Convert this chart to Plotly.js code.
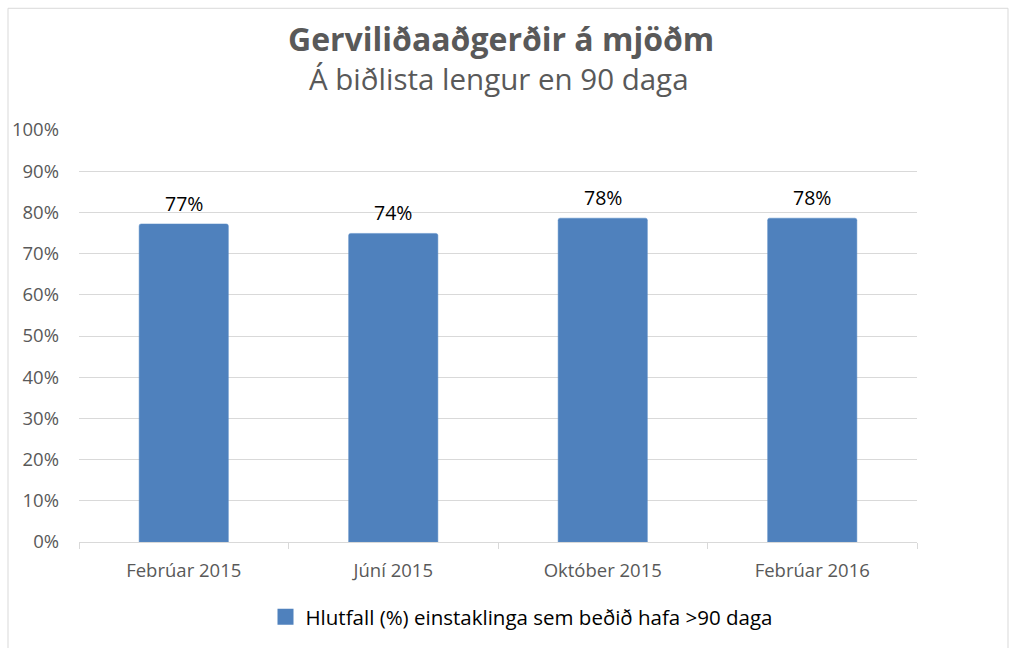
<!DOCTYPE html>
<html>
<head>
<meta charset="utf-8">
<script src="https://cdn.plot.ly/plotly-3.0.1.min.js"></script>
<style>html,body{margin:0;padding:0;background:#fff;}#chart{width:1015px;height:648px;}</style>
</head>
<body>
<div id="chart"></div>
<script>
const categories = ["Febrúar 2015", "Júní 2015", "Október 2015", "Febrúar 2016"];
const values = [0.772, 0.749, 0.786, 0.786];
const labels = ["77%", "74%", "78%", "78%"];
const seriesName = "Hlutfall (%) einstaklinga sem beðið hafa >90 daga";
const yTicks = [0, 0.1, 0.2, 0.3, 0.4, 0.5, 0.6, 0.7, 0.8, 0.9, 1.0];
const yTickText = ["0%", "10%", "20%", "30%", "40%", "50%", "60%", "70%", "80%", "90%", "100%"];
const chartTitle = "Gerviliðaaðgerðir á mjöðm";
const chartSubtitle = "Á biðlista lengur en 90 daga";

const W = 1015, H = 648;
const m = {l: 79, r: 98, t: 130, b: 105};
const pw = W - m.l - m.r, ph = H - m.t - m.b;
const px = x => (x - m.l) / pw;
const py = y => (H - m.b - y) / ph;
const FONT = "'Open Sans', sans-serif";
const BLUE = "#4f81bd";

const barTrace = {
  type: "bar",
  x: categories,
  y: values,
  name: seriesName,
  marker: {color: BLUE, cornerradius: 2, line: {color: "#5b8cc6", width: 0.5}},
  hoverinfo: "x+y",
  showlegend: false
};

// legend entry for the same series (square swatch like the original)
const legendTrace = {
  type: "scatter",
  mode: "markers",
  x: categories,
  y: categories.map(() => null),
  name: seriesName,
  marker: {symbol: "square", size: 16, color: BLUE},
  hoverinfo: "skip",
  showlegend: true
};

const labelAnnotations = categories.map((c, i) => ({
  x: c, y: values[i], xref: "x", yref: "y",
  text: labels[i], showarrow: false, xanchor: "center", yanchor: "bottom", yshift: 5,
  font: {family: FONT, size: 19.5, color: "#000000"}
}));

const layout = {
  width: W, height: H,
  margin: m,
  paper_bgcolor: "#ffffff",
  plot_bgcolor: "#ffffff",
  bargap: 0.574,
  font: {family: FONT, color: "#595959", size: 18},
  xaxis: {
    type: "category",
    showline: true, linecolor: "#d9d9d9", linewidth: 1,
    ticks: "outside", tickson: "boundaries", ticklen: 6, tickcolor: "#d9d9d9",
    showgrid: false, zeroline: false,
    ticklabelstandoff: 12,
    tickfont: {family: FONT, size: 18.5, color: "#595959"},
    fixedrange: true
  },
  yaxis: {
    range: [0, 1],
    tickvals: yTicks, ticktext: yTickText,
    showgrid: true, gridcolor: "#d9d9d9", gridwidth: 1,
    zeroline: false, showline: false,
    ticklabelstandoff: 19,
    tickfont: {family: FONT, size: 18.5, color: "#595959"},
    fixedrange: true
  },
  legend: {
    orientation: "h", x: px(522), xanchor: "center", y: py(617), yanchor: "middle",
    font: {family: FONT, size: 20.5, color: "#000000"}, itemwidth: 30, itemsizing: "trace"
  },
  annotations: [
    {text: "<b>" + chartTitle + "</b>", xref: "paper", yref: "paper", x: px(501), y: py(38), xanchor: "center", yanchor: "middle", showarrow: false, font: {family: FONT, size: 32, color: "#595959"}},
    {text: chartSubtitle, xref: "paper", yref: "paper", x: px(499), y: py(78), xanchor: "center", yanchor: "middle", showarrow: false, font: {family: FONT, size: 29.5, color: "#595959"}}
  ].concat(labelAnnotations),
  shapes: [
    {type: "rect", xref: "paper", yref: "paper", x0: px(8), x1: px(1008), y0: py(700), y1: py(8), line: {color: "#d9d9d9", width: 1}, layer: "below"}
  ]
};

Plotly.newPlot("chart", [barTrace, legendTrace], layout, {displayModeBar: false, staticPlot: true});
</script>
</body>
</html>
